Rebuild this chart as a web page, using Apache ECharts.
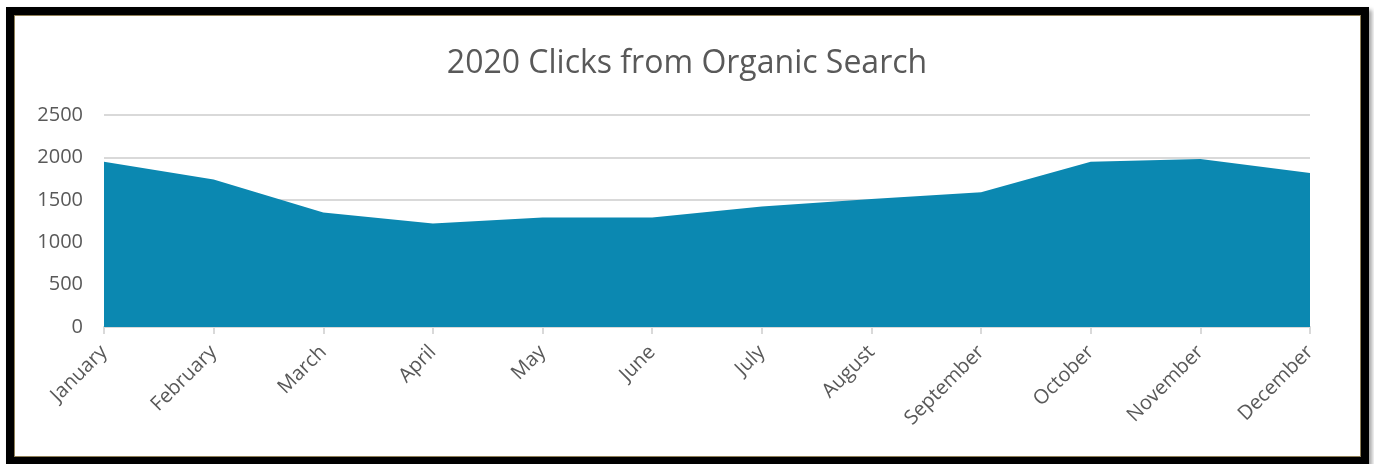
<!DOCTYPE html>
<html>
<head>
<meta charset="utf-8">
<script src="https://cdn.jsdelivr.net/npm/echarts@6/dist/echarts.min.js"></script>
<style>
  html, body { margin: 0; padding: 0; background: #fff; }
  body { width: 1374px; height: 464px; position: relative; overflow: hidden; }
  .frame {
    position: absolute; left: 6px; top: 7px; width: 1363px; height: 458px;
    box-sizing: border-box; border: 8px solid #000;
    box-shadow: 3px 3px 4px rgba(0, 0, 0, 0.35);
  }
  .frame::after {
    content: ''; position: absolute; inset: 0; border: 1px solid #8f7f57;
  }
  #chart { position: absolute; left: 0; top: 0; width: 1374px; height: 464px; }
</style>
</head>
<body>
<div class="frame"></div>
<div id="chart"></div>
<script>
  // clicks per month
  const months = ['January', 'February', 'March', 'April', 'May', 'June', 'July',
    'August', 'September', 'October', 'November', 'December']
  const clicks = [1950, 1740, 1350, 1220, 1290, 1290, 1420, 1510, 1590, 1950, 1980, 1815]
  const yTicks = [0, 500, 1000, 1500, 2000, 2500]

  const grey = '#595959'
  const lineGrey = '#d9d9d9'
  const fill = '#0b88b1'

  const chart = echarts.init(document.getElementById('chart'), undefined, { renderer: 'canvas' })
  chart.setOption({
    animation: false,
    textStyle: { fontFamily: 'Open Sans' },
    title: {
      text: '2020 Clicks from Organic Search',
      left: 'center',
      top: 43,
      textStyle: { fontFamily: 'Open Sans', fontSize: 32, fontWeight: 'normal', color: grey },
    },
    grid: { left: 104, right: 64, top: 115, bottom: 137, containLabel: false },
    xAxis: {
      type: 'category',
      data: months,
      boundaryGap: false,
      axisLine: { lineStyle: { color: lineGrey, width: 2 } },
      axisTick: { show: true, length: 7, lineStyle: { color: lineGrey, width: 2 } },
      axisLabel: { rotate: 45, fontSize: 20, color: grey, margin: 22, interval: 0 },
      splitLine: { show: false },
    },
    yAxis: {
      type: 'value',
      min: yTicks[0],
      max: yTicks[yTicks.length - 1],
      interval: yTicks[1] - yTicks[0],
      axisLine: { show: false },
      axisTick: { show: false },
      axisLabel: { fontSize: 20, color: grey, margin: 21, formatter: (v) => String(v) },
      splitLine: { lineStyle: { color: lineGrey, width: 2 } },
    },
    series: [
      {
        type: 'line',
        data: clicks,
        showSymbol: false,
        lineStyle: { width: 0 },
        areaStyle: { color: fill, opacity: 1 },
      },
    ],
  })
</script>
</body>
</html>
